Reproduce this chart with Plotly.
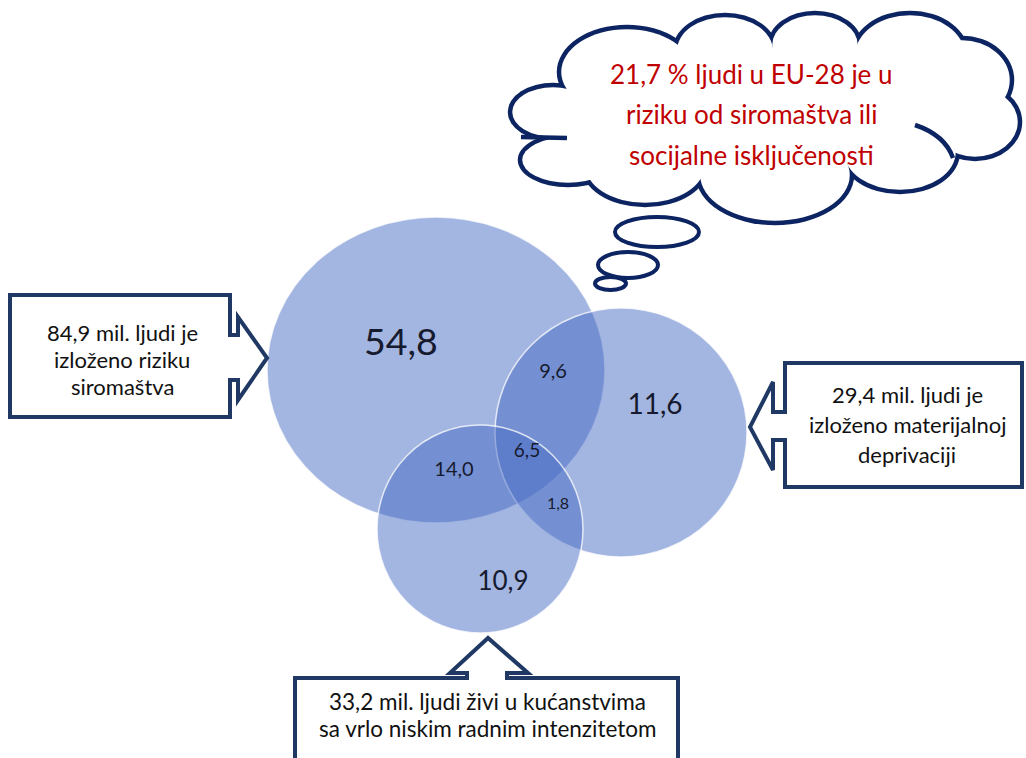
import plotly.graph_objects as go

# ---------------- data ----------------
set_names = ["izloženo riziku siromaštva", "izloženo materijalnoj deprivaciji",
             "kućanstva s vrlo niskim radnim intenzitetom"]
set_totals = [84.9, 29.4, 33.2]            # mil. ljudi
region_names = ["samo siromaštvo", "siromaštvo + deprivacija", "samo deprivacija",
                "siromaštvo + radni intenzitet", "sve tri", "deprivacija + radni intenzitet",
                "samo radni intenzitet"]
region_values = [54.8, 9.6, 11.6, 14.0, 6.5, 1.8, 10.9]
headline_pct = 21.7

def hr(v):
    return f"{v:.1f}".replace(".", ",")

# ---------------- layout constants (pixels) ----------------
W, H = 1026, 758
venn_ellipses = [(267, 217, 605, 523), (495, 308, 747, 557), (377, 425, 583, 633)]
region_xy = [(401, 346), (553, 373), (655, 407), (454, 471), (527, 452), (558, 505), (503, 583)]
region_fs = [37.5, 20, 28, 20, 19, 16, 26]

NAVY_BOX = "#1f3864"
NAVY_CLOUD = "#0c2461"
FILL = "rgba(71,107,195,0.5)"
FONT = "Lato, Open Sans, sans-serif"

fig = go.Figure()

shapes = []
for (x0, y0, x1, y1) in venn_ellipses:
    shapes.append(dict(type="circle", xref="x", yref="y", x0=x0, y0=y0, x1=x1, y1=y1,
                       fillcolor=FILL, line=dict(color="rgba(255,255,255,0.75)", width=1.5),
                       layer="below"))

# cloud: union of bump ellipses (cx, cy, rx, ry)
bumps = [(627, 72, 68, 45), (725, 50, 50, 35), (815, 45, 45, 32), (910, 55, 57, 42),
         (962, 80, 50, 42), (975, 122, 45, 37), (900, 152, 58, 40), (775, 175, 77, 48),
         (645, 165, 62, 40), (568, 160, 48, 25), (553, 112, 43, 27)]
lw = 4.5
for (cx, cy, rx, ry) in bumps:
    shapes.append(dict(type="circle", xref="x", yref="y",
                       x0=cx - rx - lw / 2, x1=cx + rx + lw / 2,
                       y0=cy - ry - lw / 2, y1=cy + ry + lw / 2,
                       fillcolor=NAVY_CLOUD, line=dict(width=0), layer="below"))
for (cx, cy, rx, ry) in bumps:
    shapes.append(dict(type="circle", xref="x", yref="y",
                       x0=cx - rx + lw / 2, x1=cx + rx - lw / 2,
                       y0=cy - ry + lw / 2, y1=cy + ry - lw / 2,
                       fillcolor="white", line=dict(width=0), layer="below"))
core = "M " + " L ".join(f"{cx},{cy}" for (cx, cy, rx, ry) in bumps) + " Z"
shapes.append(dict(type="path", xref="x", yref="y", path=core,
                   fillcolor="white", line=dict(width=0), layer="below"))
# tucks
shapes.append(dict(type="path", xref="x", yref="y", path="M 915,125 Q 945,135 953,158",
                   line=dict(color=NAVY_CLOUD, width=lw), layer="below"))
shapes.append(dict(type="path", xref="x", yref="y", path="M 521,137 L 567,138",
                   line=dict(color=NAVY_CLOUD, width=lw), layer="below"))

# thought bubbles
for (x0, y0, x1, y1) in [(615, 217, 699, 247), (598, 252, 658, 278), (595, 277, 626, 290)]:
    shapes.append(dict(type="circle", xref="x", yref="y", x0=x0, y0=y0, x1=x1, y1=y1,
                       fillcolor="white", line=dict(color=NAVY_CLOUD, width=4), layer="below"))

# arrow callouts
callouts = [
    "M 10,295 L 230,295 L 230,335 L 238,335 L 238,317 L 267,358 L 238,400 L 238,380 "
    "L 230,380 L 230,417 L 10,417 Z",
    "M 1022,363 L 785,363 L 785,412 L 773,412 L 773,382 L 750,427 L 773,470 L 773,440 "
    "L 785,440 L 785,487 L 1022,487 Z",
    "M 295,775 L 295,678 L 467,678 L 467,673 L 450,673 L 488,638 L 528,673 L 507,673 "
    "L 507,678 L 678,678 L 678,775 Z",
]
for p in callouts:
    shapes.append(dict(type="path", xref="x", yref="y", path=p, fillcolor="white",
                       line=dict(color=NAVY_BOX, width=4), layer="below"))

# region numbers
fig.add_trace(go.Scatter(
    x=[p[0] for p in region_xy], y=[p[1] for p in region_xy],
    text=[hr(v) for v in region_values], mode="text",
    textfont=dict(family=FONT, size=region_fs, color="#161a2e"),
    hovertext=region_names, hoverinfo="text", showlegend=False))

annotations = []
def add_lines(lines, x, ys, size, color):
    for t, y in zip(lines, ys):
        annotations.append(dict(x=x, y=y, xref="x", yref="y", text=t, showarrow=False,
                                font=dict(family=FONT, size=size, color=color),
                                xanchor="center", yanchor="middle"))

add_lines([f"{hr(set_totals[0])} mil. ljudi je", "izloženo riziku", "siromaštva"],
          122, [332, 359, 386], 22, "#111111")
add_lines([f"{hr(set_totals[1])} mil. ljudi je", "izloženo materijalnoj", "deprivaciji"],
          907, [394, 424, 454], 22, "#111111")
add_lines([f"{hr(set_totals[2])} mil. ljudi živi u kućanstvima", "sa vrlo niskim radnim intenzitetom"],
          487, [701, 728], 22.5, "#111111")
add_lines([f"{hr(headline_pct)} % ljudi u EU-28 je u", "riziku od siromaštva ili",
           "socijalne isključenosti"], 751, [74, 114, 155], 26, "#c00000")

fig.update_layout(
    width=W, height=H, margin=dict(l=0, r=0, t=0, b=0),
    paper_bgcolor="white", plot_bgcolor="white",
    xaxis=dict(range=[0, W], visible=False, fixedrange=True),
    yaxis=dict(range=[H, 0], visible=False, fixedrange=True),
    shapes=shapes, annotations=annotations, showlegend=False,
)

fig.write_html("out.html", config={"displayModeBar": False},
               post_script="document.body.style.margin='0';document.body.style.overflow='hidden';")
